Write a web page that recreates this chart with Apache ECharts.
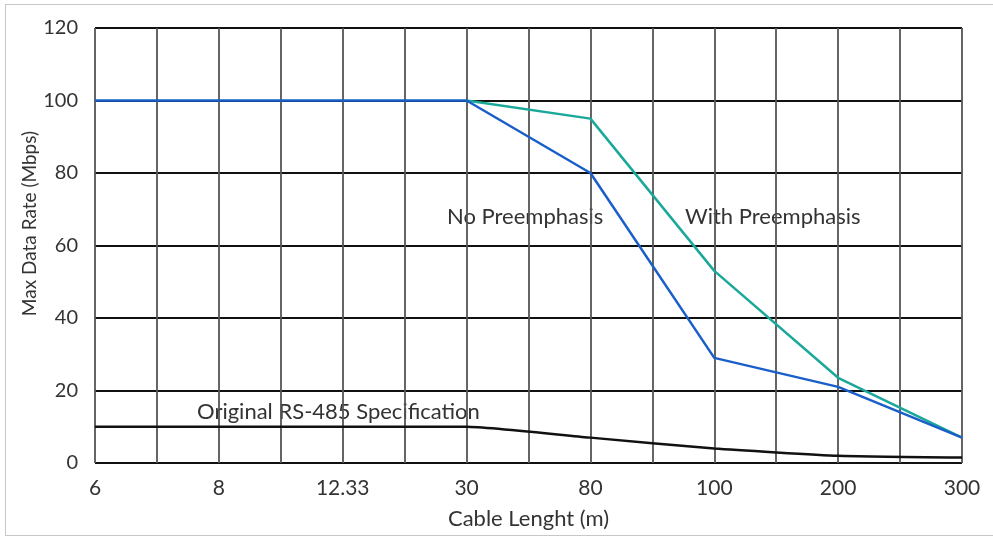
<!DOCTYPE html>
<html><head><meta charset="utf-8">
<script src="https://cdn.jsdelivr.net/npm/echarts@6/dist/echarts.min.js"></script>
<style>html,body{margin:0;padding:0;background:#fff}
#wrap{position:relative;width:993px;height:538px;overflow:hidden}
#frame{position:absolute;left:5px;top:4px;width:1000px;height:532px;box-sizing:border-box;border:1.5px solid #c8c8c8;pointer-events:none}
#c{position:absolute;left:0;top:0;width:993px;height:538px}</style>
</head><body><div id="wrap"><div id="c"></div><div id="frame"></div></div>
<script>
const xLabels = ['6','8','12.33','30','80','100','200','300'];
const yTicks = [0,20,40,60,80,100,120];
// x positions are indices into xLabels
const noPre = [[0,100],[3,100],[4,80],[5,29],[6,21],[7,7]];
const withPre = [[3,100],[4,95],[5,53],[6,23.5],[7,7]];
const rs485 = [[0,10],[3,10],[4,7],[5,4],[6,2],[7,1.5]];

const chart = echarts.init(document.getElementById('c'));
const font = 'Lato, "Open Sans", sans-serif';
chart.setOption({
  animation:false,
  grid:{left:95,right:31,top:28,bottom:75},
  xAxis:{type:'value',min:0,max:7,interval:0.5,
    name:'Cable Lenght (m)',nameLocation:'middle',nameGap:45,
    nameTextStyle:{fontFamily:font,fontSize:22,color:'#333'},
    axisLine:{show:false},axisTick:{show:false},
    axisLabel:{fontFamily:font,fontSize:21,color:'#333',margin:15,
      formatter:v=>Number.isInteger(v)?xLabels[v]:''},
    splitLine:{show:true,lineStyle:{color:'#555',width:1.8}}},
  yAxis:{type:'value',min:yTicks[0],max:yTicks[yTicks.length-1],interval:20,
    name:'Max Data Rate (Mbps)',nameLocation:'middle',nameGap:56,nameMoveOverlap:false,
    nameTextStyle:{fontFamily:font,fontSize:19,color:'#333',padding:[0,0,0,44]},
    axisLine:{show:false},axisTick:{show:false},
    axisLabel:{fontFamily:font,fontSize:20,color:'#333',margin:17},
    splitLine:{show:true,lineStyle:{color:'#111',width:2.2}}},
  series:[
    {type:'line',data:rs485,symbol:'none',smooth:0.15,lineStyle:{color:'#111',width:2.5},z:3},
    {type:'line',data:withPre,symbol:'none',lineStyle:{color:'#1aa89a',width:2.5},z:4},
    {type:'line',data:noPre,symbol:'none',lineStyle:{color:'#1a5fc9',width:2.5},z:5}
  ],
  graphic:[
    {type:'text',x:447,y:217,style:{text:'No Preemphasis',font:'22px '+font,fill:'#333',verticalAlign:'middle'}},
    {type:'text',x:685,y:217,style:{text:'With Preemphasis',font:'22px '+font,fill:'#333',verticalAlign:'middle'}},
    {type:'text',x:197,y:412,style:{text:'Original RS-485 Specification',font:'22px '+font,fill:'#333',verticalAlign:'middle'}}
  ]
});
</script></body></html>
